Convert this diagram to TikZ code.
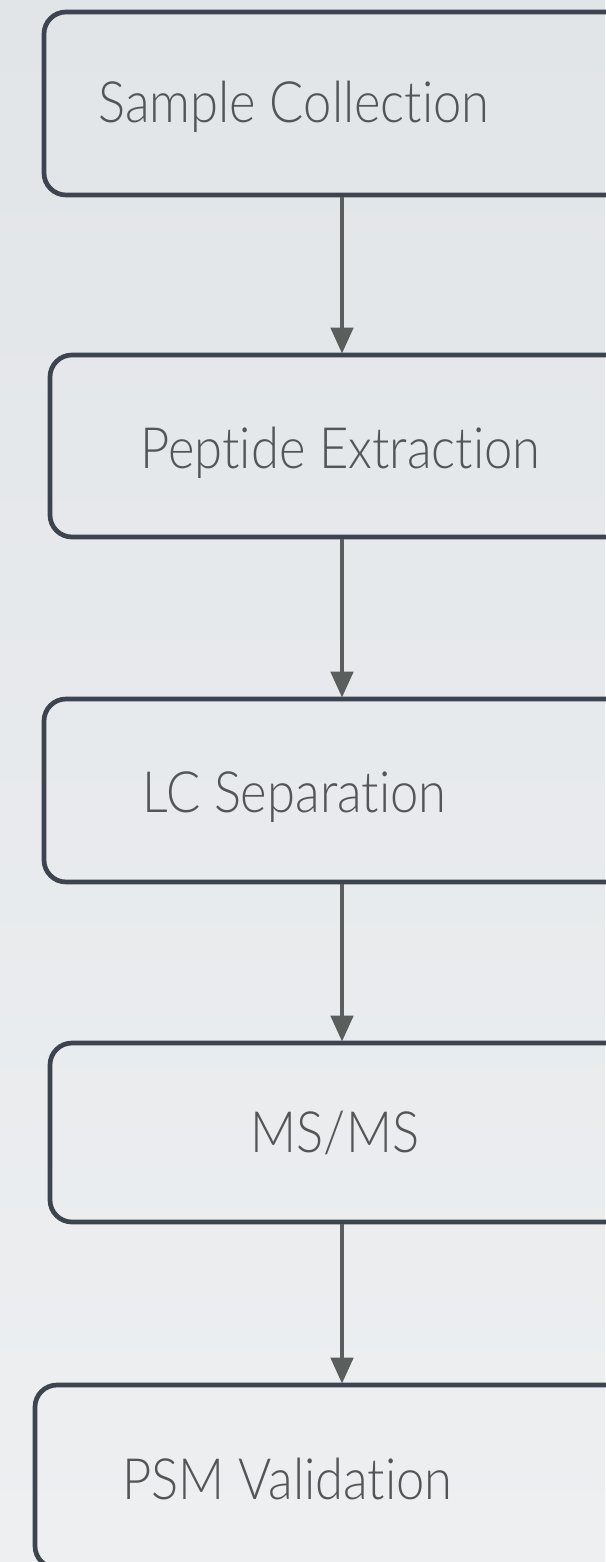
\documentclass[tikz,border=0pt]{standalone}
\usepackage{fontspec}
\usepackage{graphicx}
\setmainfont{Lato Light}[Ligatures={NoCommon}]
\usetikzlibrary{arrows.meta}
\definecolor{bgtop}{HTML}{E2E5E8}
\definecolor{bgbot}{HTML}{EDEFF1}
\definecolor{boxline}{HTML}{3C4450}
\definecolor{arrowcol}{HTML}{5A5E5C}
\definecolor{textcol}{HTML}{535556}
\newcommand{\narrowtxt}[1]{\scalebox{0.89}[1]{#1}}
\tikzset{
  stepbox/.style={draw=boxline, line width=4.7pt, rounded corners=22pt,
    rectangle, inner sep=0pt, minimum width=596pt},
  steplabel/.style={text=textcol, anchor=base, inner sep=0pt,
    font=\fontsize{57}{60}\selectfont},
  flow/.style={draw=arrowcol, line width=4.7pt,
    -{Triangle[length=26pt,width=22pt]}, shorten >=-1pt}
}
\begin{document}
\begin{tikzpicture}[x=1pt,y=1pt]
  \shade[top color=bgtop, bottom color=bgbot] (0,0) rectangle (605,-1562);
  \useasboundingbox (0,0) rectangle (605,-1562);
  % boxes
  \node[stepbox, minimum height=183pt] (b1) at (342,-103.5) {};
  \node[stepbox, minimum height=182pt] (b2) at (348,-446) {};
  \node[stepbox, minimum height=183pt] (b3) at (342,-790.5) {};
  \node[stepbox, minimum height=179pt] (b4) at (348,-1132.5) {};
  \node[stepbox, minimum height=183pt] (b5) at (333,-1476.5) {};
  % labels
  \node[steplabel] (t1) at (294,-123) {\narrowtxt{Sample Collection}};
  \node[steplabel] (t2) at (340.5,-468) {\narrowtxt{Peptide Extraction}};
  \node[steplabel] (t3) at (294.5,-812) {\narrowtxt{LC Separation}};
  \node[steplabel] (t4) at (335,-1152) {\narrowtxt{MS/MS}};
  \node[steplabel] (t5) at (287.5,-1499) {\narrowtxt{PSM Validation}};
  % connectors
  \coordinate (ax) at (342,0);
  \draw[flow] (b1.south -| ax) -- (b2.north -| ax);
  \draw[flow] (b2.south -| ax) -- (b3.north -| ax);
  \draw[flow] (b3.south -| ax) -- (b4.north -| ax);
  \draw[flow] (b4.south -| ax) -- (b5.north -| ax);
\end{tikzpicture}
\end{document}
